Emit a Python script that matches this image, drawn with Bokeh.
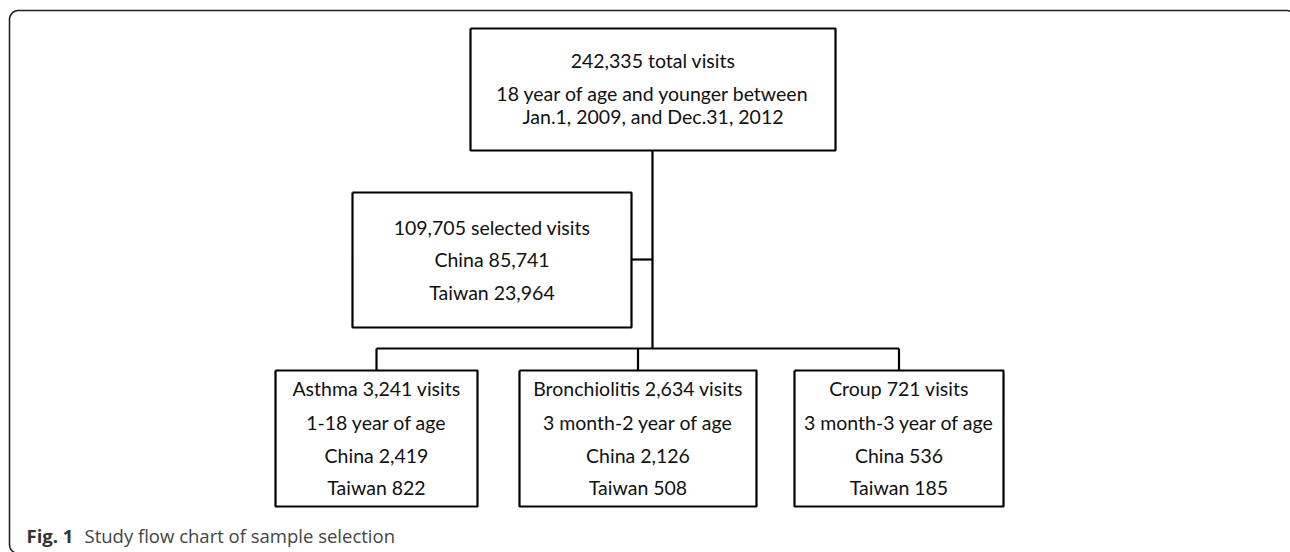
import numpy as np
from bokeh.plotting import figure
from bokeh.models import Range1d, ColumnDataSource
from bokeh.core.properties import value
from bokeh.embed import file_html
from bokeh.resources import INLINE

# ---- data ----
total_visits = 242335
top_notes = ["18 year of age and younger between", "Jan.1, 2009, and Dec.31, 2012"]
selected_visits = 109705
selected_china = 85741
selected_taiwan = 23964
categories = ["Asthma", "Bronchiolitis", "Croup"]
category_visits = [3241, 2634, 721]
age_ranges = ["1-18 year of age", "3 month-2 year of age", "3 month-3 year of age"]
china_counts = [2419, 2126, 536]
taiwan_counts = [822, 508, 185]
caption_bold = "Fig. 1"
caption_text = "Study flow chart of sample selection"

W, H = 1290, 552
p = figure(width=W, height=H, output_backend="svg", toolbar_location=None,
           x_range=Range1d(0, W), y_range=Range1d(H, 0), min_border=0)
p.axis.visible = False
p.grid.visible = False
p.outline_line_color = None
p.background_fill_color = "white"

FONT = value("Lato")
FS = "19.5px"
LW = 2.2

def box(x0, x1, y0, y1):
    p.line([x0, x1, x1, x0, x0], [y0, y0, y1, y1, y0], line_color="black", line_width=LW)

def lines_text(cx, ys, texts):
    src = ColumnDataSource(dict(x=[cx] * len(texts), y=ys, t=texts))
    p.text(x="x", y="y", text="t", source=src, text_font=FONT, text_font_size=FS,
           text_align="center", text_baseline="middle", text_color="#111111")

# outer rounded frame (right and bottom sides fall just outside the picture)
r = 9
def arc(cx, cy, a0, a1):
    t = np.linspace(a0, a1, 16)
    return list(cx + r * np.cos(t)), list(cy + r * np.sin(t))
ax1, ay1 = arc(9 + r, 553 - r, np.pi / 2, np.pi)
ax2, ay2 = arc(9 + r, 10 + r, np.pi, 1.5 * np.pi)
ax3, ay3 = arc(1295 - r, 10 + r, 1.5 * np.pi, 2 * np.pi)
fx = [1300] + ax1 + ax2 + ax3 + [1295]
fy = [553] + ay1 + ay2 + ay3 + [560]
p.line(fx, fy, line_color="#222222", line_width=1.6)

# top box
tx0, tx1, ty0, ty1 = 470, 835, 28, 150
box(tx0, tx1, ty0, ty1)
lines_text((tx0 + tx1) / 2, [60, 93, 116], [f"{total_visits:,} total visits"] + top_notes)

# trunk
trunk_x = 652
bus_y = 348
p.line([trunk_x, trunk_x], [ty1, bus_y], line_color="black", line_width=LW)

# middle box
mx0, mx1, my0, my1 = 352, 631, 192, 327
box(mx0, mx1, my0, my1)
p.line([mx1, trunk_x], [259, 259], line_color="black", line_width=LW)
lines_text((mx0 + mx1) / 2, [227, 259, 292],
           [f"{selected_visits:,} selected visits", f"China {selected_china:,}",
            f"Taiwan {selected_taiwan:,}"])

# bottom boxes
bxs = [(275, 477), (519, 756), (794, 1003)]
by0, by1 = 370, 506
centers = [(a + b) / 2 for a, b in bxs]
p.line([centers[0], centers[-1]], [bus_y, bus_y], line_color="black", line_width=LW)
for i, (a, b) in enumerate(bxs):
    c = centers[i]
    p.line([c, c], [bus_y, by0], line_color="black", line_width=LW)
    box(a, b, by0, by1)
    lines_text(c, [388, 422, 455, 487],
               [f"{categories[i]} {category_visits[i]:,} visits", age_ranges[i],
                f"China {china_counts[i]:,}", f"Taiwan {taiwan_counts[i]:,}"])

# caption
p.text(x=[26], y=[535], text=[caption_bold], text_font=value("Open Sans"),
       text_font_size="18.5px", text_font_style="bold", text_align="left",
       text_baseline="middle", text_color="#333333")
p.text(x=[84], y=[535], text=[caption_text], text_font=value("Open Sans"),
       text_font_size="18.5px", text_align="left", text_baseline="middle",
       text_color="#444444")

open("out.html", "w").write(file_html(p, INLINE))
